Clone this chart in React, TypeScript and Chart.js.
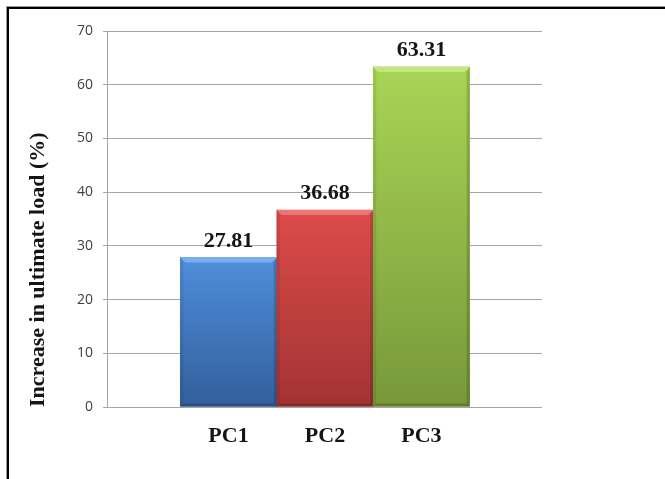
import { useEffect, useRef } from "react";
import { Chart, registerables } from "chart.js";

Chart.register(...registerables);

// Specimen categories and their position along the x axis
const categories = ["PC1", "PC2", "PC3"];
const positions = [1, 2, 3];
// Increase in ultimate load (%)
const increase = [27.81, 36.68, 63.31];
// Y axis ticks
const yTicks = [0, 10, 20, 30, 40, 50, 60, 70];

// Bar colours: gradient from top to base, plus a lighter bevel on top
const barTop = ["#4f8edb", "#dc4c4a", "#a8d456"];
const barBottom = ["#335f9c", "#a23333", "#789839"];
const bevelLight = ["#78adee", "#ec7674", "#c2e680"];

const SERIF = '"Liberation Serif", "Times New Roman", serif';

const bevelAndLabels = {
  id: "bevelAndLabels",
  afterDatasetsDraw(chart: any) {
    const ctx = chart.ctx as CanvasRenderingContext2D;
    const meta = chart.getDatasetMeta(0);
    meta.data.forEach((bar: any, i: number) => {
      const { x, y, base, width } = bar.getProps(["x", "y", "base", "width"], true);
      const l = x - width / 2;
      const r = x + width / 2;
      const t = y;
      const b = base;
      const k = 5;
      const s = 3;
      ctx.save();
      // top bevel
      ctx.fillStyle = bevelLight[i];
      ctx.beginPath();
      ctx.moveTo(l, t);
      ctx.lineTo(r, t);
      ctx.lineTo(r - k, t + k);
      ctx.lineTo(l + k, t + k);
      ctx.closePath();
      ctx.fill();
      // side shading
      ctx.fillStyle = "rgba(0,0,0,0.16)";
      ctx.beginPath();
      ctx.moveTo(r, t);
      ctx.lineTo(r, b);
      ctx.lineTo(r - s, b - s);
      ctx.lineTo(r - s, t + k);
      ctx.closePath();
      ctx.fill();
      ctx.fillStyle = "rgba(0,0,0,0.08)";
      ctx.beginPath();
      ctx.moveTo(l, t);
      ctx.lineTo(l + s, t + k);
      ctx.lineTo(l + s, b - s);
      ctx.lineTo(l, b);
      ctx.closePath();
      ctx.fill();
      ctx.fillStyle = "rgba(0,0,0,0.18)";
      ctx.beginPath();
      ctx.moveTo(l, b);
      ctx.lineTo(l + s, b - s);
      ctx.lineTo(r - s, b - s);
      ctx.lineTo(r, b);
      ctx.closePath();
      ctx.fill();

      // value label
      ctx.fillStyle = "#151515";
      ctx.font = `bold 22px ${SERIF}`;
      ctx.textAlign = "center";
      ctx.textBaseline = "alphabetic";
      ctx.fillText(increase[i].toFixed(2), x, t - 11);
      ctx.restore();
    });
  },
};

export default function App() {
  const canvasRef = useRef<HTMLCanvasElement | null>(null);

  useEffect(() => {
    const canvas = canvasRef.current;
    if (!canvas) return;

    const fill = (c: any) => {
      const i = c.dataIndex ?? 0;
      const chart = c.chart;
      const ys = chart.scales?.y;
      if (!ys) return barTop[i];
      const top = ys.getPixelForValue(increase[i]);
      const bottom = ys.getPixelForValue(0);
      if (!Number.isFinite(top) || !Number.isFinite(bottom) || top === bottom) {
        return barTop[i];
      }
      const g = chart.ctx.createLinearGradient(0, top, 0, bottom);
      g.addColorStop(0, barTop[i]);
      g.addColorStop(1, barBottom[i]);
      return g;
    };

    const chart = new Chart(canvas, {
      type: "bar",
      data: {
        datasets: [
          {
            label: "Increase in ultimate load (%)",
            data: positions.map((p, i) => ({ x: p, y: increase[i] })),
            backgroundColor: fill,
            borderWidth: 0,
            barPercentage: 1,
            categoryPercentage: 1,
          },
        ],
      },
      options: {
        responsive: false,
        animation: false,
        layout: { padding: { top: 31, right: 123, bottom: 0, left: 0 } },
        plugins: {
          legend: { display: false },
          tooltip: { enabled: false },
        },
        scales: {
          x: {
            type: "linear",
            min: -0.26,
            max: 4.25,
            offset: false,
            afterBuildTicks: (s: any) => {
              s.ticks = positions.map((v) => ({ value: v }));
            },
            grid: { display: false, drawTicks: false, offset: false },
            border: { display: false },
            ticks: {
              autoSkip: false,
              maxRotation: 0,
              padding: 16,
              color: "#151515",
              font: { family: SERIF, size: 22, weight: "bold" },
              callback: (v: any) => {
                const i = positions.indexOf(Number(v));
                return i >= 0 ? categories[i] : "";
              },
            },
            afterFit: (s: any) => {
              s.height = 72;
            },
          },
          y: {
            min: 0,
            max: 70,
            afterBuildTicks: (s: any) => {
              s.ticks = yTicks.map((v) => ({ value: v }));
            },
            grid: { color: "#a6a6a6", lineWidth: 1, tickLength: 4 },
            border: { color: "#a6a6a6", width: 1 },
            ticks: {
              padding: 10,
              color: "#404040",
              font: { family: '"Open Sans", sans-serif', size: 14 },
            },
            title: {
              display: true,
              text: "Increase in ultimate load (%)",
              align: "start",
              color: "#151515",
              font: { family: SERIF, size: 22, weight: "bold" },
              padding: { top: 25, bottom: 0 },
            },
            afterFit: (s: any) => {
              s.width = 107;
            },
          },
        },
      },
      plugins: [bevelAndLabels],
    } as any);

    return () => chart.destroy();
  }, []);

  return (
    <div
      style={{
        position: "fixed",
        left: 0,
        top: 0,
        width: 665,
        height: 479,
        background: "#ffffff",
        overflow: "hidden",
      }}
    >
      <canvas
        ref={canvasRef}
        width={665}
        height={479}
        style={{ display: "block", width: 665, height: 479 }}
      />
      <div
        style={{
          position: "absolute",
          left: 7,
          top: 7,
          width: 680,
          height: 500,
          borderTop: "2px solid #000",
          borderLeft: "2px solid #000",
          boxShadow: "-1px -1px 0 #9a9a9a",
          pointerEvents: "none",
        }}
      />
    </div>
  );
}
